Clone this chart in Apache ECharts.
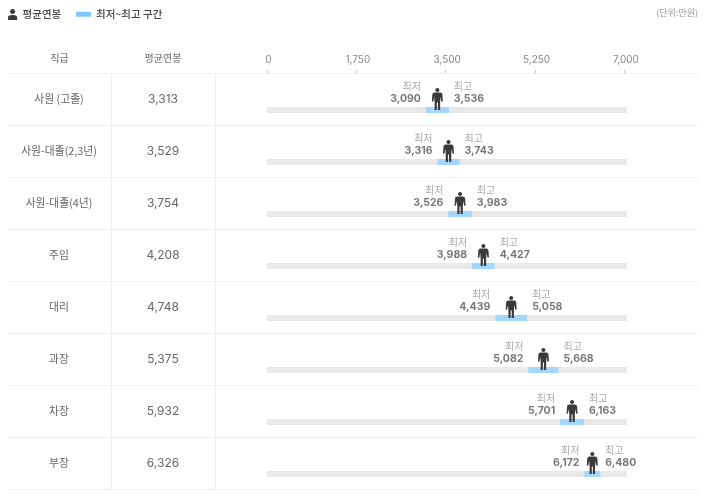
<!DOCTYPE html>
<html><head><meta charset="utf-8">
<style>html,body{margin:0;padding:0;background:#fff}#c{width:712px;height:501px}</style>
<script src="https://cdn.jsdelivr.net/npm/echarts@6/dist/echarts.min.js"></script></head>
<body><div id="c"></div>
<script>
const grades = ['사원 (고졸)','사원-대졸(2,3년)','사원-대졸(4년)','주임','대리','과장','차장','부장'];
const avgPay = [3313,3529,3754,4208,4748,5375,5932,6326];
const minPay = [3090,3316,3526,3988,4439,5082,5701,6172];
const maxPay = [3536,3743,3983,4427,5058,5668,6163,6480];
const tickValues = [0,1750,3500,5250,7000];
const trackEnd = 7000;

const FONT = '"Noto Sans CJK KR","Noto Sans",sans-serif';
const NUM = 'Inter,"Noto Sans CJK KR",sans-serif';
const fmt = v => v.toLocaleString('en-US');
const personIcon = 'path://M12 0C14.4 0 16.4 1.8 16.4 4S14.4 8 12 8S7.6 6.2 7.6 4S9.6 0 12 0zM6 9H18C21.5 9 22.6 11 23 13.5L24 27L21 27.5L19 18L18 29V44H13.2V29H10.8V44H6V29L5 18L3 27.5L0 27L1 13.5C1.4 11 2.5 9 6 9z';
const bustIcon = 'path://M12 0C15 0 17.6 2.5 17.6 5.6S15 11.2 12 11.2S6.4 8.7 6.4 5.6S9 0 12 0zM2 24V18C2 14.5 6 13 12 13S22 14.5 22 18V24z';
const BAR_OFFSET = 11, BAR_H = 6;

function rangeBar(api, color, a, b){
  const y = api.coord([0, api.value(2)])[1] + BAR_OFFSET - BAR_H/2;
  const x0 = api.coord([a, 0])[0], x1 = api.coord([b, 0])[0];
  return {type:'rect', shape:{x:x0, y:y, width:x1-x0, height:BAR_H}, style:{fill:color}};
}
const chart = echarts.init(document.getElementById('c'), null, {renderer:'canvas'});
const side = (vals, word, pos) => ({
  type:'scatter', xAxisIndex:1, yAxisIndex:0, symbolSize:0, silent:true, z:6,
  data: vals.map((v,i)=>[v,i]),
  label:{show:true, position:pos, distance:5, offset:[0,-6.5],
    formatter:p=>`{a|${word}}\n{b|${fmt(p.value[0])}}`,
    rich:{a:{fontFamily:FONT,fontSize:10,color:'#959595',lineHeight:12,align:pos==='left'?'right':'left'},
          b:{fontFamily:NUM,fontSize:10.5,fontWeight:700,color:'#555',lineHeight:12,align:pos==='left'?'right':'left'}}}
});
const rule = (x1,y1,x2,y2)=>({type:'line',shape:{x1,y1,x2,y2},style:{stroke:'#eeeeee',lineWidth:1},silent:true,z:0});
const rowYs = [73.5,125.5,177.5,229.5,281.5,333.5,385.5,437.5,489.5];
const head = (x,t)=>({type:'text',x,y:58,silent:true,style:{text:t,fill:'#808080',font:`500 10px ${FONT}`,textAlign:'center',textVerticalAlign:'middle'}});

chart.setOption({
  animation:false,
  backgroundColor:'#fff',
  legend:[
    {data:[{name:'평균연봉',icon:bustIcon}],left:8,top:9,padding:0,itemWidth:10,itemHeight:11,itemGap:0,selectedMode:false,
     textStyle:{fontFamily:FONT,fontSize:10.5,fontWeight:500,color:'#444'}},
    {data:[{name:'최저~최고 구간',icon:'rect'}],left:76,top:9,padding:0,itemWidth:15,itemHeight:5,selectedMode:false,
     textStyle:{fontFamily:FONT,fontSize:10.5,fontWeight:500,color:'#444'}}
  ],
  grid:{left:267,top:73,width:360,height:416,containLabel:false},
  xAxis:[
    {type:'value',position:'top',min:0,max:7050,
     axisLine:{show:false},splitLine:{show:false},
     axisTick:{show:true,length:3,lineStyle:{color:'#ccc'},customValues:tickValues},
     axisLabel:{customValues:tickValues,margin:8,padding:[0,0,0,3],fontFamily:NUM,fontSize:10,color:'#888',formatter:v=>fmt(v)}},
    {type:'value',position:'top',min:0,max:trackEnd,show:false}
  ],
  yAxis:[
    {type:'category',data:grades,inverse:true,
     axisLine:{show:false},axisTick:{show:false},splitLine:{show:false},
     axisLabel:{align:'center',margin:208,fontFamily:FONT,fontSize:10.8,color:'#666'}},
    {type:'category',data:avgPay.map(fmt),inverse:true,position:'left',
     axisLine:{show:false},axisTick:{show:false},splitLine:{show:false},
     axisLabel:{align:'center',margin:104,fontFamily:NUM,fontSize:12,color:'#666'}}
  ],
  series:[
    {name:'track',type:'custom',xAxisIndex:1,yAxisIndex:0,silent:true,z:2,
     data:grades.map((g,i)=>[0,trackEnd,i]),
     renderItem:(p,api)=>rangeBar(api,'#e9e9e9',api.value(0),api.value(1))},
    {name:'최저~최고 구간',type:'custom',xAxisIndex:1,yAxisIndex:0,silent:true,z:3,
     itemStyle:{color:'#7cc8ff'},
     data:grades.map((g,i)=>[minPay[i],maxPay[i],i]),
     renderItem:(p,api)=>rangeBar(api,'#a3d6fd',api.value(0),api.value(1))},
    {name:'평균연봉',type:'scatter',xAxisIndex:1,yAxisIndex:0,silent:true,z:5,
     symbol:personIcon,symbolSize:[11,22],symbolKeepAspect:false,
     itemStyle:{color:'#3a3a3a',opacity:1},
     data:avgPay.map((v,i)=>[v,i])},
    side(minPay,'최저','left'),
    side(maxPay,'최고','right')
  ],
  graphic:[
    ...rowYs.map(y=>rule(8,y,698,y)),
    rule(111.5,73,111.5,489),rule(215.5,73,215.5,489),
    head(59.5,'직급'),head(163,'평균연봉'),
    {type:'text',x:698,y:13,silent:true,style:{text:'(단위:만원)',fill:'#999',font:`9px ${FONT}`,textAlign:'right',textVerticalAlign:'middle'}}
  ]
});
</script></body></html>
